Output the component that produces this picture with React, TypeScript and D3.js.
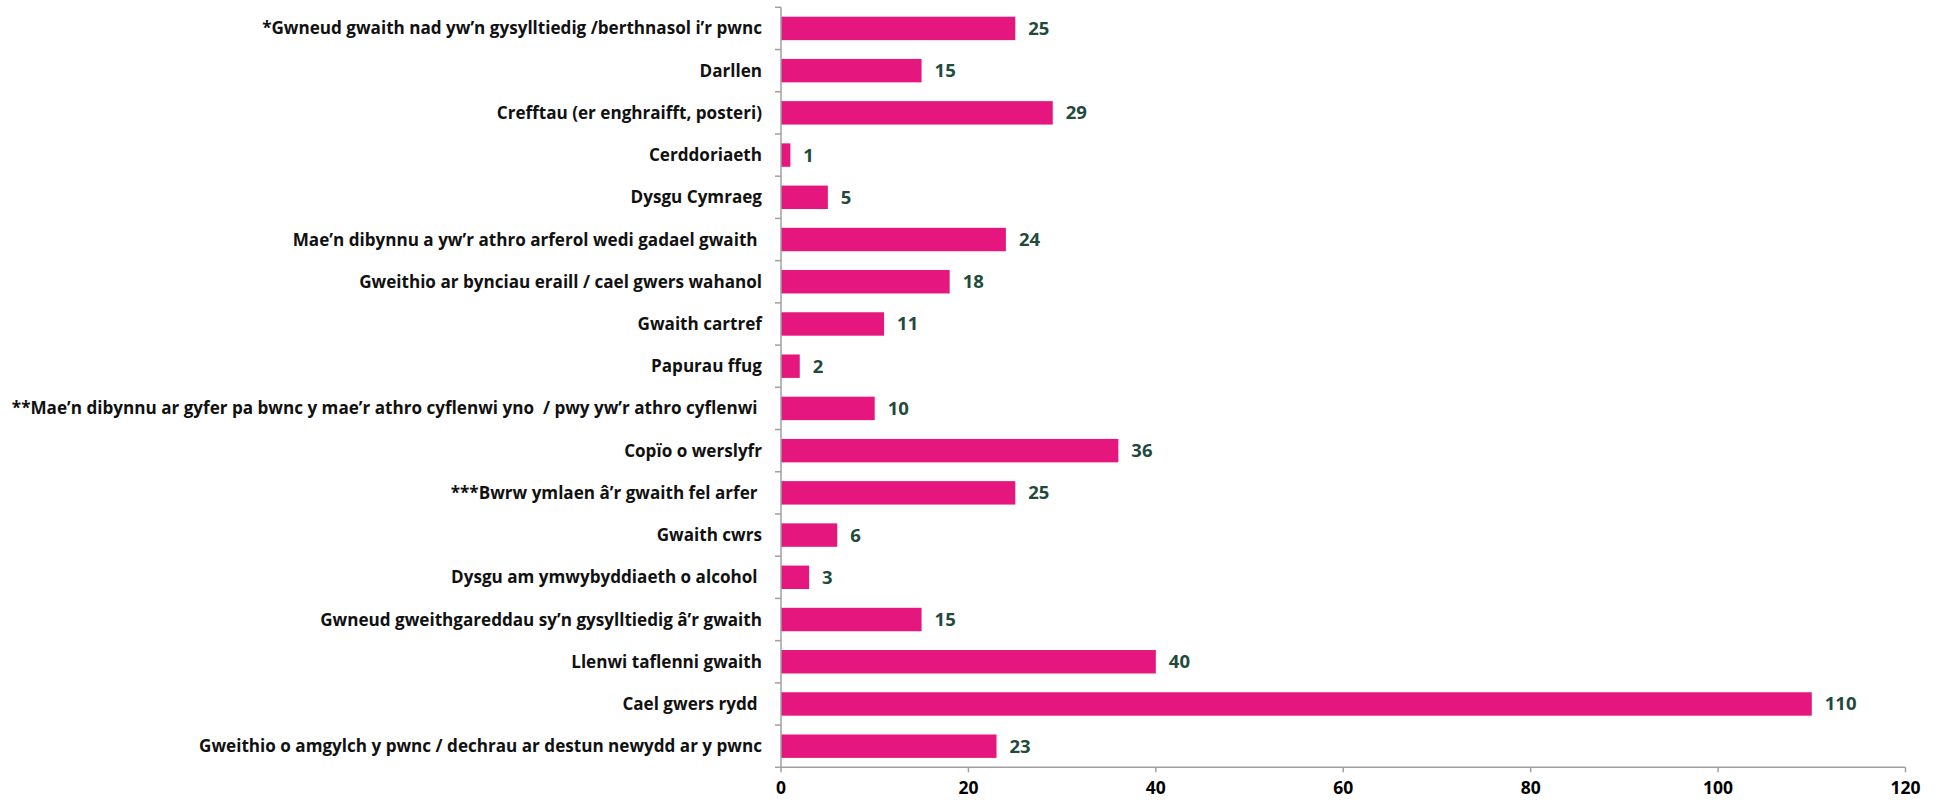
import React from "react";
import * as d3 from "d3";

const categories = [
  "*Gwneud gwaith nad yw’n gysylltiedig /berthnasol i’r pwnc",
  "Darllen",
  "Crefftau (er enghraifft, posteri)",
  "Cerddoriaeth",
  "Dysgu Cymraeg",
  "Mae’n dibynnu a yw’r athro arferol wedi gadael gwaith ",
  "Gweithio ar bynciau eraill / cael gwers wahanol",
  "Gwaith cartref",
  "Papurau ffug",
  "**Mae’n dibynnu ar gyfer pa bwnc y mae’r athro cyflenwi yno  / pwy yw’r athro cyflenwi ",
  "Copïo o werslyfr",
  "***Bwrw ymlaen â’r gwaith fel arfer ",
  "Gwaith cwrs",
  "Dysgu am ymwybyddiaeth o alcohol ",
  "Gwneud gweithgareddau sy’n gysylltiedig â’r gwaith",
  "Llenwi taflenni gwaith",
  "Cael gwers rydd ",
  "Gweithio o amgylch y pwnc / dechrau ar destun newydd ar y pwnc",
];
const values = [25, 15, 29, 1, 5, 24, 18, 11, 2, 10, 36, 25, 6, 3, 15, 40, 110, 23];
const xTicks = [0, 20, 40, 60, 80, 100, 120];

export default function App() {
  const W = 1941, H = 800;
  const x0 = 781, x1 = 1905.5, yTop = 7.3, yBot = 767.3;
  const x = d3.scaleLinear().domain([0, 120]).range([x0, x1]);
  const y = d3.scaleBand().domain(categories).range([yTop, yBot]).paddingInner(0.445).paddingOuter(0.2225);
  const step = y.step();
  const axisColor = "#a0a0a0";
  const font = "'Open Sans', 'Noto Sans', sans-serif";
  return (
    <svg width={W} height={H} style={{ position: "absolute", left: 0, top: 0, background: "#fff" }}>
      {categories.map((c, i) => (
        <g key={i}>
          <rect x={x(0)} y={y(c)!} width={x(values[i]) - x(0)} height={y.bandwidth()} fill="#E6167F" />
          <text x={x(values[i]) + 13} y={y(c)! + y.bandwidth() / 2} dy="0.35em" fontFamily={font} fontWeight={700} fontSize={18.5} fill="#1F4A3C">
            {values[i]}
          </text>
          <text x={x0 - 19} y={y(c)! + y.bandwidth() / 2} dy="0.35em" textAnchor="end" fontFamily={font} fontWeight={700} fontSize={17.1} fill="#111" style={{ whiteSpace: "pre" }} xmlSpace="preserve">
            {c}
          </text>
        </g>
      ))}
      {/* y axis */}
      <line x1={x0} x2={x0} y1={yTop} y2={yBot} stroke={axisColor} strokeWidth={1.5} />
      {d3.range(categories.length + 1).map((i) => (
        <line key={"yt" + i} x1={x0 - 6} x2={x0} y1={yTop + i * step} y2={yTop + i * step} stroke={axisColor} strokeWidth={1.5} />
      ))}
      {/* x axis */}
      <line x1={x0} x2={x1} y1={yBot} y2={yBot} stroke={axisColor} strokeWidth={1.5} />
      {xTicks.map((t) => (
        <g key={"xt" + t}>
          <line x1={x(t)} x2={x(t)} y1={yBot} y2={yBot + 5} stroke={axisColor} strokeWidth={1.5} />
          <text x={x(t)} y={794} textAnchor="middle" fontFamily={font} fontWeight={700} fontSize={17.5} fill="#000">
            {t}
          </text>
        </g>
      ))}
    </svg>
  );
}
